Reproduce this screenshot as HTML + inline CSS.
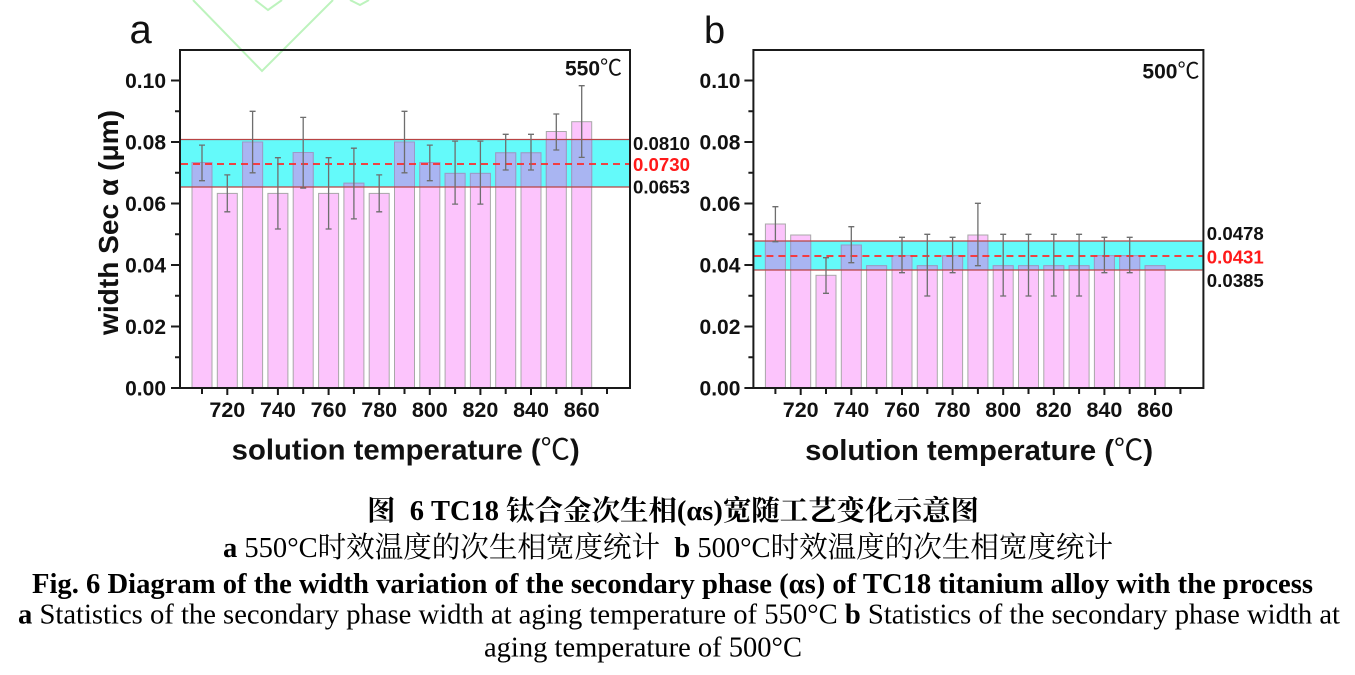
<!DOCTYPE html>
<html>
<head>
<meta charset="utf-8">
<style>
html,body{margin:0;padding:0;background:#fff;}
body{width:1355px;height:675px;overflow:hidden;}
svg{display:block;}
.ax{font-family:"Liberation Sans","Noto Sans CJK SC",sans-serif;font-weight:bold;fill:#111;}
.cap{font-family:"Liberation Serif","Noto Serif CJK SC",serif;fill:#000;white-space:pre;}
</style>
</head>
<body>
<svg width="1355" height="675" viewBox="0 0 1355 675" xmlns="http://www.w3.org/2000/svg">
<rect x="0" y="0" width="1355" height="675" fill="#fff"/>

<!-- faint watermark lines -->
<g fill="none" stroke="#bdf3bd" stroke-width="2">
  <polyline points="193,0 262,71 333,0"/>
  <polyline points="255,0 268,10 282,0"/>
  <polyline points="350,0 360,5 369,0"/>
</g>

<!-- ================= PANEL A ================= -->
<g id="pa">
  <rect x="181" y="139.5" width="449" height="47.5" fill="#64fafa"/>
  <g fill="#fcc4fc" stroke="#a8a8a8" stroke-width="1">
    <rect x="192" y="162.6" width="20" height="225.4"/>
    <rect x="217.3" y="193.4" width="20" height="194.6"/>
    <rect x="242.6" y="142" width="20" height="246"/>
    <rect x="267.9" y="193.4" width="20" height="194.6"/>
    <rect x="293.2" y="152.5" width="20" height="235.5"/>
    <rect x="318.6" y="193.4" width="20" height="194.6"/>
    <rect x="343.9" y="183.2" width="20" height="204.8"/>
    <rect x="369.2" y="193.4" width="20" height="194.6"/>
    <rect x="394.5" y="142" width="20" height="246"/>
    <rect x="419.8" y="162.6" width="20" height="225.4"/>
    <rect x="445.1" y="173.4" width="20" height="214.6"/>
    <rect x="470.4" y="173.4" width="20" height="214.6"/>
    <rect x="495.7" y="152.8" width="20" height="235.2"/>
    <rect x="521" y="152.8" width="20" height="235.2"/>
    <rect x="546.3" y="131.5" width="20" height="256.5"/>
    <rect x="571.7" y="121.7" width="20" height="266.3"/>
  </g>
  <g fill="#a9b5f2" stroke="#9a9ac8" stroke-width="1">
    <rect x="192" y="162.6" width="20" height="24.4"/>
    <rect x="242.6" y="142" width="20" height="45"/>
    <rect x="293.2" y="152.5" width="20" height="34.5"/>
    <rect x="343.9" y="183.2" width="20" height="3.8"/>
    <rect x="394.5" y="142" width="20" height="45"/>
    <rect x="419.8" y="162.6" width="20" height="24.4"/>
    <rect x="445.1" y="173.4" width="20" height="13.6"/>
    <rect x="470.4" y="173.4" width="20" height="13.6"/>
    <rect x="495.7" y="152.8" width="20" height="34.2"/>
    <rect x="521" y="152.8" width="20" height="34.2"/>
    <rect x="546.3" y="139.5" width="20" height="47.5"/>
    <rect x="571.7" y="139.5" width="20" height="47.5"/>
  </g>
  <line x1="181" y1="139.5" x2="629" y2="139.5" stroke="#b84444" stroke-width="1.2"/>
  <line x1="181" y1="187" x2="629" y2="187" stroke="#b84444" stroke-width="1.2"/>
  <line x1="181" y1="164" x2="629" y2="164" stroke="#ff2a2a" stroke-width="1.7" stroke-dasharray="7,5"/>
  <path fill="none" stroke="#6e6e6e" stroke-width="1.3" d="
    M202,145.1V180.7M199,145.1H205M199,180.7H205
    M227.3,174.9V211.8M224.3,174.9H230.3M224.3,211.8H230.3
    M252.6,111.3V172.8M249.6,111.3H255.6M249.6,172.8H255.6
    M277.9,157.7V229M274.9,157.7H280.9M274.9,229H280.9
    M303.2,117.4V188.1M300.2,117.4H306.2M300.2,188.1H306.2
    M328.6,157.7V229M325.6,157.7H331.6M325.6,229H331.6
    M353.9,148.2V218.9M350.9,148.2H356.9M350.9,218.9H356.9
    M379.2,174.9V211.8M376.2,174.9H382.2M376.2,211.8H382.2
    M404.5,111.3V172.8M401.5,111.3H407.5M401.5,172.8H407.5
    M429.8,145.1V180.7M426.8,145.1H432.8M426.8,180.7H432.8
    M455.1,141.1V204.1M452.1,141.1H458.1M452.1,204.1H458.1
    M480.4,141.1V204.1M477.4,141.1H483.4M477.4,204.1H483.4
    M505.7,134.3V170M502.7,134.3H508.7M502.7,170H508.7
    M531,134.3V170M528,134.3H534M528,170H534
    M556.3,114V150M553.3,114H559.3M553.3,150H559.3
    M581.7,85.7V157.4M578.7,85.7H584.7M578.7,157.4H584.7"/>
  <rect x="180" y="50" width="450" height="338" fill="none" stroke="#1a1a1a" stroke-width="2"/>
  <path stroke="#1a1a1a" stroke-width="2" fill="none" d="
    M171,388H180M171,326.5H180M171,265H180M171,203.5H180M171,142H180M171,80.5H180
    M175,357.25H180M175,295.75H180M175,234.25H180M175,172.75H180M175,111.25H180
    M227.3,388V395M277.9,388V395M328.6,388V395M379.2,388V395M429.8,388V395M480.4,388V395M531,388V395M581.7,388V395
    M202,388V394M252.6,388V394M303.2,388V394M353.9,388V394M404.5,388V394M455.1,388V394M505.7,388V394M556.3,388V394M607,388V394"/>
  <g class="ax" font-size="21" text-anchor="end">
    <text x="166" y="395.5">0.00</text>
    <text x="166" y="334">0.02</text>
    <text x="166" y="272.5">0.04</text>
    <text x="166" y="211">0.06</text>
    <text x="166" y="149.5">0.08</text>
    <text x="166" y="88">0.10</text>
  </g>
  <g class="ax" font-size="21.5" text-anchor="middle">
    <text x="227.3" y="417">720</text>
    <text x="277.9" y="417">740</text>
    <text x="328.6" y="417">760</text>
    <text x="379.2" y="417">780</text>
    <text x="429.8" y="417">800</text>
    <text x="480.4" y="417">820</text>
    <text x="531" y="417">840</text>
    <text x="581.7" y="417">860</text>
  </g>
  <text class="ax" x="231.7" y="459.3" font-size="29" textLength="348" lengthAdjust="spacingAndGlyphs">solution temperature (<tspan font-weight="normal">℃</tspan>)</text>
  <text class="ax" x="565" y="75.5" font-size="21">550<tspan font-weight="normal" font-size="22">℃</tspan></text>
  <text class="ax" x="633" y="150" font-size="18.5" textLength="57" lengthAdjust="spacingAndGlyphs">0.0810</text>
  <text class="ax" x="633" y="171" font-size="18.5" textLength="57" lengthAdjust="spacingAndGlyphs" style="fill:#ff1a1a">0.0730</text>
  <text class="ax" x="633" y="193.5" font-size="18.5" textLength="57" lengthAdjust="spacingAndGlyphs">0.0653</text>
</g>
<text class="ax" transform="translate(118,222.5) rotate(-90)" font-size="28" text-anchor="middle" textLength="225" lengthAdjust="spacingAndGlyphs">width Sec α (μm)</text>
<text x="129.5" y="43" font-family="Liberation Sans, sans-serif" font-size="40" fill="#111">a</text>
<text x="704" y="43" font-family="Liberation Sans, sans-serif" font-size="38" fill="#111">b</text>

<!-- ================= PANEL B ================= -->
<g transform="translate(573.4,0)">
  <rect x="181" y="241" width="449" height="29" fill="#64fafa"/>
  <g fill="#fcc4fc" stroke="#a8a8a8" stroke-width="1">
    <rect x="192" y="224" width="20" height="164"/>
    <rect x="217.3" y="235" width="20" height="153"/>
    <rect x="242.6" y="275.3" width="20" height="112.7"/>
    <rect x="267.9" y="245" width="20" height="143"/>
    <rect x="293.2" y="265.7" width="20" height="122.3"/>
    <rect x="318.6" y="255.7" width="20" height="132.3"/>
    <rect x="343.9" y="265.7" width="20" height="122.3"/>
    <rect x="369.2" y="255.7" width="20" height="132.3"/>
    <rect x="394.5" y="235" width="20" height="153"/>
    <rect x="419.8" y="265.7" width="20" height="122.3"/>
    <rect x="445.1" y="265.7" width="20" height="122.3"/>
    <rect x="470.4" y="265.7" width="20" height="122.3"/>
    <rect x="495.7" y="265.7" width="20" height="122.3"/>
    <rect x="521" y="255.7" width="20" height="132.3"/>
    <rect x="546.3" y="255.7" width="20" height="132.3"/>
    <rect x="571.7" y="265.7" width="20" height="122.3"/>
  </g>
  <g fill="#a9b5f2" stroke="#9a9ac8" stroke-width="1">
    <rect x="192" y="241" width="20" height="29"/>
    <rect x="217.3" y="241" width="20" height="29"/>
    <rect x="267.9" y="245" width="20" height="25"/>
    <rect x="293.2" y="265.7" width="20" height="4.3"/>
    <rect x="318.6" y="255.7" width="20" height="14.3"/>
    <rect x="343.9" y="265.7" width="20" height="4.3"/>
    <rect x="369.2" y="255.7" width="20" height="14.3"/>
    <rect x="394.5" y="241" width="20" height="29"/>
    <rect x="419.8" y="265.7" width="20" height="4.3"/>
    <rect x="445.1" y="265.7" width="20" height="4.3"/>
    <rect x="470.4" y="265.7" width="20" height="4.3"/>
    <rect x="495.7" y="265.7" width="20" height="4.3"/>
    <rect x="521" y="255.7" width="20" height="14.3"/>
    <rect x="546.3" y="255.7" width="20" height="14.3"/>
    <rect x="571.7" y="265.7" width="20" height="4.3"/>
  </g>
  <line x1="181" y1="241" x2="629" y2="241" stroke="#b84444" stroke-width="1.2"/>
  <line x1="181" y1="270" x2="629" y2="270" stroke="#b84444" stroke-width="1.2"/>
  <line x1="181" y1="256" x2="629" y2="256" stroke="#ff2a2a" stroke-width="1.7" stroke-dasharray="7,5"/>
  <path fill="none" stroke="#6e6e6e" stroke-width="1.3" d="
    M202,206.7V241.7M199,206.7H205M199,241.7H205
    M252.6,257.7V293.3M249.6,257.7H255.6M249.6,293.3H255.6
    M277.9,226.7V262.7M274.9,226.7H280.9M274.9,262.7H280.9
    M328.6,237.3V272.7M325.6,237.3H331.6M325.6,272.7H331.6
    M353.9,234.3V296M350.9,234.3H356.9M350.9,296H356.9
    M379.2,237.3V272.7M376.2,237.3H382.2M376.2,272.7H382.2
    M404.5,203.3V265.7M401.5,203.3H407.5M401.5,265.7H407.5
    M429.8,234.3V296M426.8,234.3H432.8M426.8,296H432.8
    M455.1,234.3V296M452.1,234.3H458.1M452.1,296H458.1
    M480.4,234.3V296M477.4,234.3H483.4M477.4,296H483.4
    M505.7,234.3V296M502.7,234.3H508.7M502.7,296H508.7
    M531,237.3V272.7M528,237.3H534M528,272.7H534
    M556.3,237.3V272.7M553.3,237.3H559.3M553.3,272.7H559.3"/>
  <rect x="180" y="50" width="450" height="338" fill="none" stroke="#1a1a1a" stroke-width="2"/>
  <path stroke="#1a1a1a" stroke-width="2" fill="none" d="
    M171,388H180M171,326.5H180M171,265H180M171,203.5H180M171,142H180M171,80.5H180
    M175,357.25H180M175,295.75H180M175,234.25H180M175,172.75H180M175,111.25H180
    M227.3,388V395M277.9,388V395M328.6,388V395M379.2,388V395M429.8,388V395M480.4,388V395M531,388V395M581.7,388V395
    M202,388V394M252.6,388V394M303.2,388V394M353.9,388V394M404.5,388V394M455.1,388V394M505.7,388V394M556.3,388V394M607,388V394"/>
  <g class="ax" font-size="21" text-anchor="end">
    <text x="167" y="395.5">0.00</text>
    <text x="167" y="334">0.02</text>
    <text x="167" y="272.5">0.04</text>
    <text x="167" y="211">0.06</text>
    <text x="167" y="149.5">0.08</text>
    <text x="167" y="88">0.10</text>
  </g>
  <g class="ax" font-size="21.5" text-anchor="middle">
    <text x="227.3" y="417">720</text>
    <text x="277.9" y="417">740</text>
    <text x="328.6" y="417">760</text>
    <text x="379.2" y="417">780</text>
    <text x="429.8" y="417">800</text>
    <text x="480.4" y="417">820</text>
    <text x="531" y="417">840</text>
    <text x="581.7" y="417">860</text>
  </g>
  <text class="ax" x="231.7" y="460" font-size="29" textLength="348" lengthAdjust="spacingAndGlyphs">solution temperature (<tspan font-weight="normal">℃</tspan>)</text>
  <text class="ax" x="569" y="78.5" font-size="21">500<tspan font-weight="normal" font-size="22">℃</tspan></text>
  <text class="ax" x="633.4" y="240" font-size="18.5" textLength="57" lengthAdjust="spacingAndGlyphs">0.0478</text>
  <text class="ax" x="633.4" y="263.3" font-size="18.5" textLength="57" lengthAdjust="spacingAndGlyphs" style="fill:#ff1a1a">0.0431</text>
  <text class="ax" x="633.4" y="287" font-size="18.5" textLength="57" lengthAdjust="spacingAndGlyphs">0.0385</text>
</g>

<!-- ================= CAPTION ================= -->
<text class="cap" x="367" y="520" font-size="28" font-weight="bold" textLength="612" lengthAdjust="spacingAndGlyphs">图  6 TC18 钛合金次生相(αs)宽随工艺变化示意图</text>
<text class="cap" x="223" y="557" font-size="29" textLength="890" lengthAdjust="spacingAndGlyphs"><tspan font-weight="bold">a</tspan> 550°C时效温度的次生相宽度统计  <tspan font-weight="bold">b</tspan> 500°C时效温度的次生相宽度统计</text>
<text class="cap" x="32" y="593" font-size="28.5" font-weight="bold" textLength="1281" lengthAdjust="spacingAndGlyphs">Fig. 6 Diagram of the width variation of the secondary phase (αs) of TC18 titanium alloy with the process</text>
<text class="cap" x="18" y="623.5" font-size="28.5" textLength="1322" lengthAdjust="spacingAndGlyphs"><tspan font-weight="bold">a</tspan> Statistics of the secondary phase width at aging temperature of 550°C <tspan font-weight="bold">b</tspan> Statistics of the secondary phase width at</text>
<text class="cap" x="484" y="656.5" font-size="28.5" textLength="318" lengthAdjust="spacingAndGlyphs">aging temperature of 500°C</text>
</svg>
</body>
</html>
